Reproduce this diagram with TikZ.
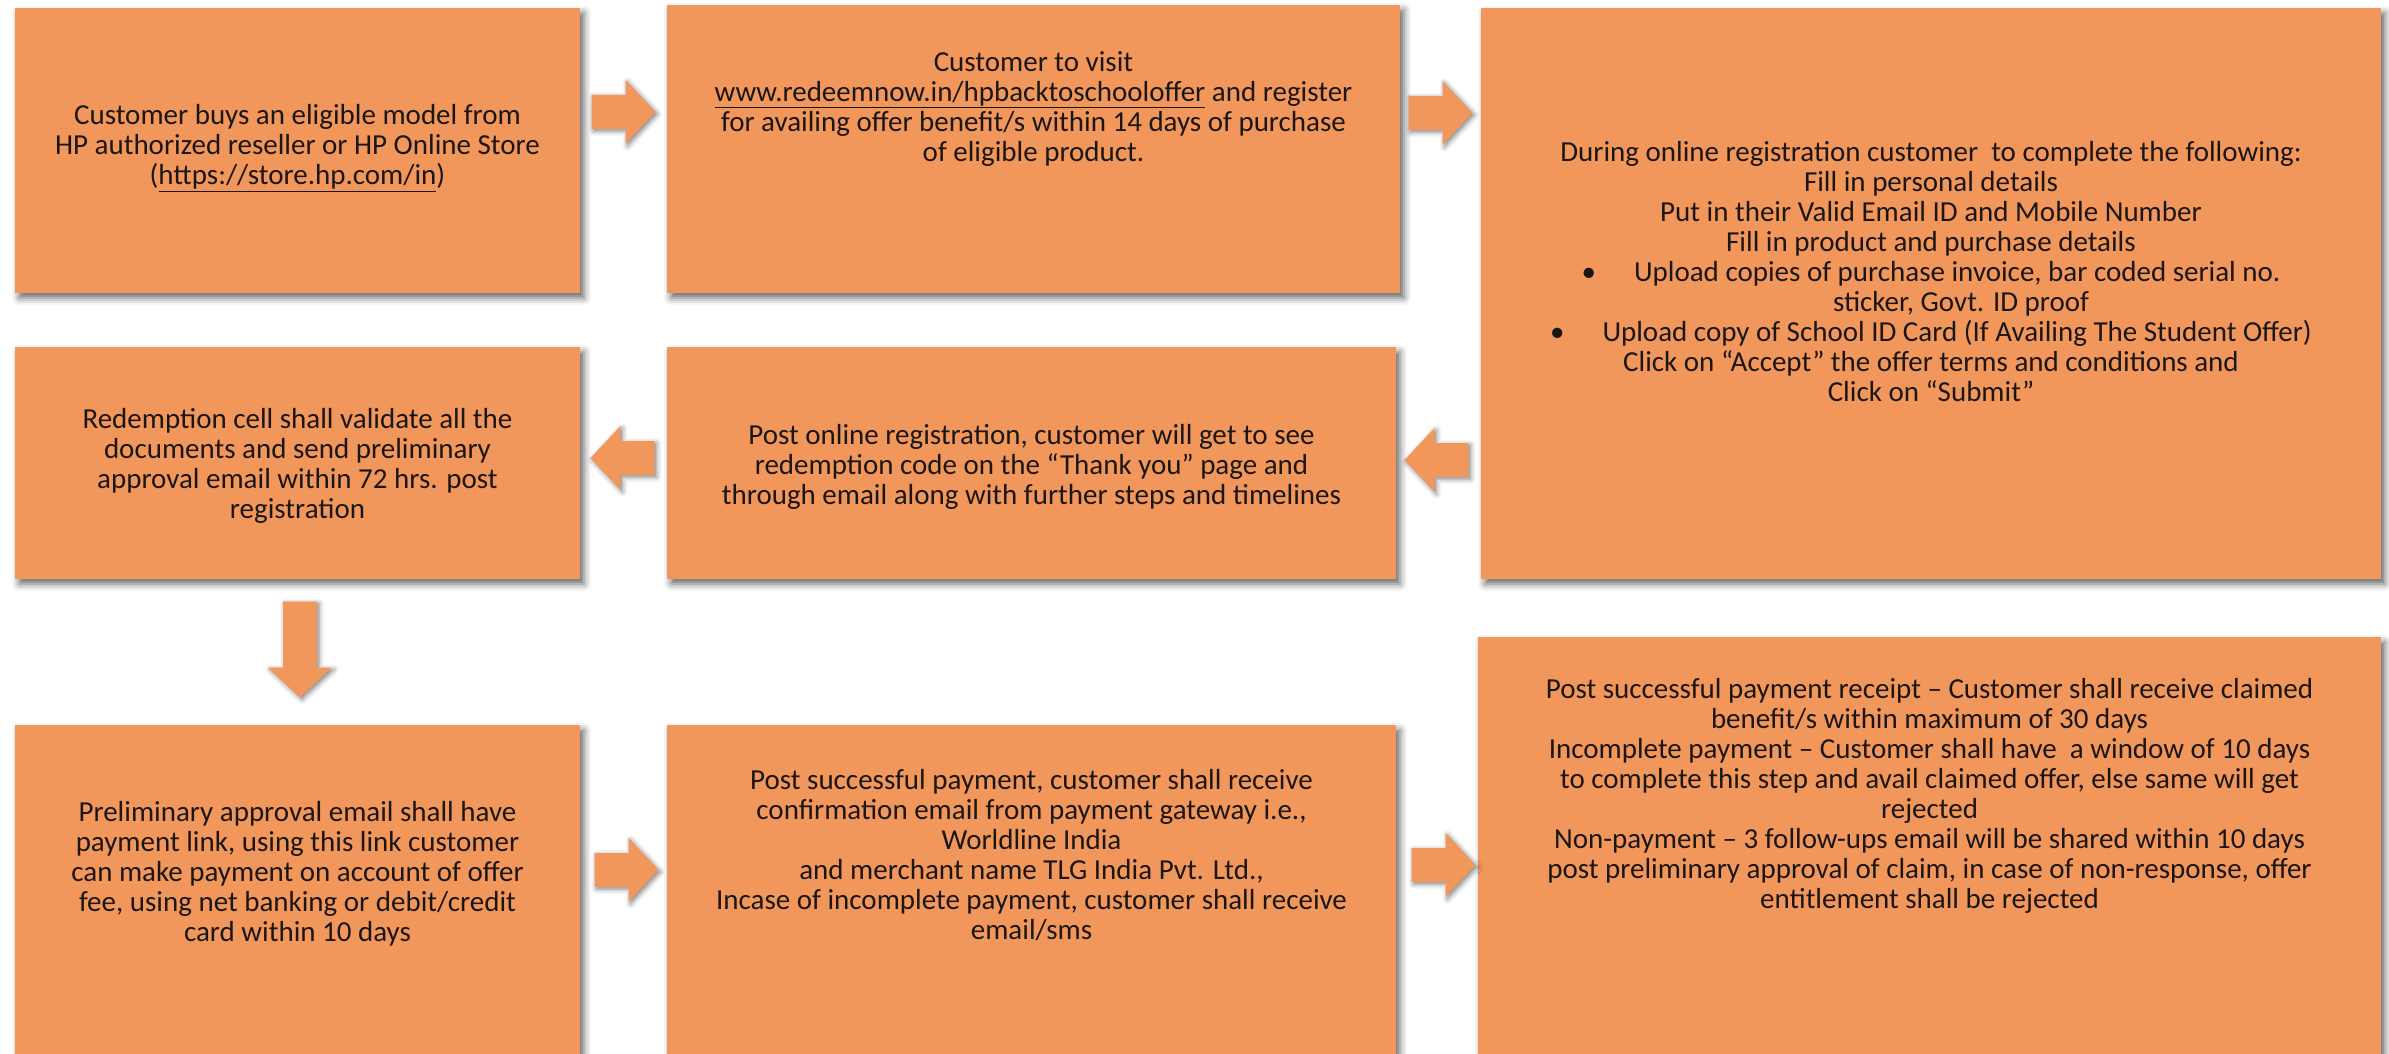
\documentclass[tikz,border=0pt]{standalone}
\usepackage{fontspec}
\setmainfont{Carlito}
\usepackage{tikz}
\usetikzlibrary{shadows.blur}

\definecolor{boxorange}{RGB}{241,151,92}
\definecolor{boxtext}{RGB}{28,22,18}

\tikzset{
	pics/blockarrow/.style={code={
		\fill[boxorange, blur shadow={shadow xshift=2pt, shadow yshift=-2pt,
				shadow blur radius=5pt, shadow opacity=50}]
			(-#1, -17) -- ({#1-30}, -17) -- ({#1-30}, -32) --
			(#1, 0) --
			({#1-30}, 32) -- ({#1-30}, 17) -- (-#1, 17) -- cycle;
	}}
}

\begin{document}
\begin{tikzpicture}[x=1pt, y=-1pt,
	stepbox/.style={fill=boxorange, inner sep=0pt, outer sep=0pt,
		blur shadow={shadow xshift=4pt, shadow yshift=-5pt,
			shadow blur radius=7pt, shadow opacity=60}},
	steptext/.style={align=center, text=boxtext, inner sep=0pt,
		font=\fontsize{29}{30}\selectfont}]
\useasboundingbox (0, 0) rectangle (2389, 1054);
\clip (0, 0) rectangle (2389, 1054);

% boxes, first row
\node[stepbox, minimum width=565, minimum height=285] (b1) at (297.5, 150.5) {};
\node[stepbox, minimum width=733, minimum height=288] (b2) at (1033.5, 149) {};
\node[stepbox, minimum width=900, minimum height=571] (b3) at (1931, 293.5) {};

% second row
\node[stepbox, minimum width=565, minimum height=232] (b4) at (297.5, 463) {};
\node[stepbox, minimum width=729, minimum height=232] (b5) at (1031.5, 463) {};

% third row, cut at the lower edge
\node[stepbox, minimum width=565, minimum height=345] (b7) at (297.5, 897.5) {};
\node[stepbox, minimum width=729, minimum height=345] (b8) at (1031.5, 897.5) {};
\node[stepbox, minimum width=903, minimum height=433] (b9) at (1929.5, 853.5) {};

% arrows
\pic (a12) at (623.5, 112) {blockarrow=32};
\pic (a23) at (1440.5, 113) {blockarrow=32};
\pic[rotate=180] (a35) at (1436.5, 460) {blockarrow=32};
\pic[rotate=180] (a54) at (622.5, 458) {blockarrow=32};
\pic[rotate=-90] (a47) at (300, 649.5) {blockarrow=48};
\pic (a78) at (626.5, 870) {blockarrow=32};
\pic (a89) at (1443.5, 865) {blockarrow=32};

% texts
\node[steptext] (t1) at (297.5, 148) {Customer buys an eligible model from\\
	HP authorized reseller or HP Online Store\\
	(\underline{https://store.hp.com/in})};
\node[steptext] (t2) at (1033.5, 109) {Customer to visit\\
	\underline{www.redeemnow.in/hpbacktoschooloffer} and register\\
	for availing offer benefit/s within 14 days of purchase\\
	of eligible product.};
\node[steptext] (t3) at (1931, 272) {During online registration customer\ \ to complete the following:\\
	Fill in personal details\\
	Put in their Valid Email ID and Mobile Number\\
	Fill in product and purchase details\\
	\textbullet\hspace{38pt}Upload copies of purchase invoice, bar coded serial no.\\
	\hspace*{60pt}sticker, Govt. ID proof\\
	\textbullet\hspace{38pt}Upload copy of School ID Card (If Availing The Student Offer)\\
	Click on “Accept” the offer terms and conditions and\\
	Click on “Submit”};
\node[steptext] (t4) at (297.5, 466) {Redemption cell shall validate all the\\
	documents and send preliminary\\
	approval email within 72 hrs. post\\
	registration};
\node[steptext] (t5) at (1031.5, 467) {Post online registration, customer will get to see\\
	redemption code on the “Thank you” page and\\
	through email along with further steps and timelines};
\node[steptext] (t7) at (297.5, 874) {Preliminary approval email shall have\\
	payment link, using this link customer\\
	can make payment on account of offer\\
	fee, using net banking or debit/credit\\
	card within 10 days};
\node[steptext] (t8) at (1031.5, 855) {Post successful payment, customer shall receive\\
	confirmation email from payment gateway i.e.,\\
	Worldline India\\
	and merchant name TLG India Pvt. Ltd.,\\
	Incase of incomplete payment, customer shall receive\\
	email/sms};
\node[steptext] (t9) at (1929.5, 796) {Post successful payment receipt – Customer shall receive claimed\\
	benefit/s within maximum of 30 days\\
	Incomplete payment – Customer shall have\ \ a window of 10 days\\
	to complete this step and avail claimed offer, else same will get\\
	rejected\\
	Non-payment – 3 follow-ups email will be shared within 10 days\\
	post preliminary approval of claim, in case of non-response, offer\\
	entitlement shall be rejected};
\end{tikzpicture}
\end{document}
